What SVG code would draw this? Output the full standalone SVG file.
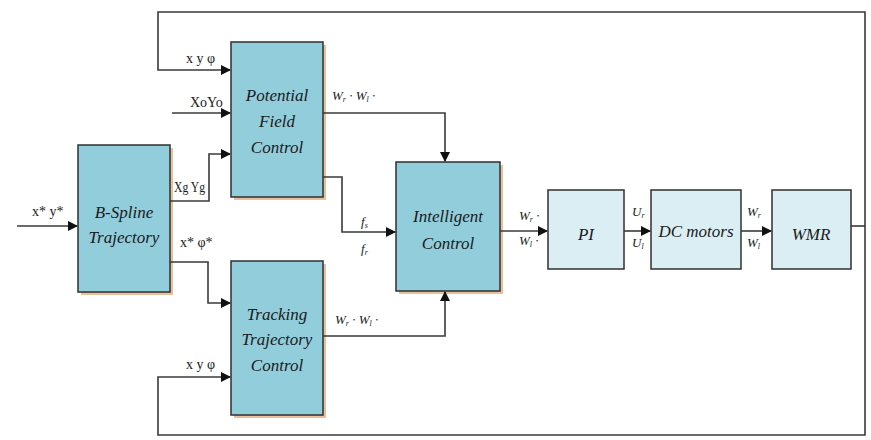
<svg xmlns="http://www.w3.org/2000/svg" width="871" height="440" viewBox="0 0 871 440">
<style>
.shadow{fill:#e9bf9c;}
.box{fill:#92cddc;stroke:#2f2f2f;stroke-width:1.5;}
.lbox{fill:#dbeef4;stroke:#2f2f2f;stroke-width:1.5;}
.bt{font-family:"Liberation Serif",serif;font-style:italic;font-size:17px;fill:#1a1a1a;text-anchor:middle;}
.lt{font-family:"Liberation Serif",serif;font-size:14px;fill:#1a1a1a;}
.it{font-family:"Liberation Serif",serif;font-style:italic;font-size:13px;fill:#1a1a1a;}
.sub{font-size:8px;}
.c{fill:none;stroke:#3a3a3a;stroke-width:1.6;}
</style>
<defs>
<marker id="ah" markerWidth="10" markerHeight="10" refX="9" refY="5" orient="auto" markerUnits="userSpaceOnUse">
<path d="M0,0 L10,5 L0,10 z" fill="#111"/>
</marker>
</defs>
<rect width="871" height="440" fill="#fff"/>
<g id="bspline">
<rect class="shadow" x="81" y="148" width="92" height="147"/>
<rect class="box" x="78" y="145" width="92" height="147"/>
<text class="bt" x="124" y="218" font-size="16">B-Spline</text>
<text class="bt" x="124" y="243" font-size="16">Trajectory</text>
</g>
<g id="potential">
<rect class="shadow" x="234" y="45" width="92" height="155"/>
<rect class="box" x="231" y="42" width="92" height="155"/>
<text class="bt" x="277" y="101">Potential</text>
<text class="bt" x="277" y="127">Field</text>
<text class="bt" x="277" y="153">Control</text>
</g>
<g id="tracking">
<rect class="shadow" x="234" y="264" width="92" height="154"/>
<rect class="box" x="231" y="261" width="92" height="154"/>
<text class="bt" x="277" y="320">Tracking</text>
<text class="bt" x="277" y="345">Trajectory</text>
<text class="bt" x="277" y="371">Control</text>
</g>
<g id="intelligent">
<rect class="shadow" x="399" y="165" width="104" height="129"/>
<rect class="box" x="396" y="162" width="104" height="129"/>
<text class="bt" x="448" y="222">Intelligent</text>
<text class="bt" x="448" y="249">Control</text>
</g>
<g id="pi">
<rect class="lbox" x="548" y="190" width="76" height="79"/>
<text class="bt" x="586" y="240">PI</text>
</g>
<g id="dcmotors">
<rect class="lbox" x="651" y="190" width="90" height="79"/>
<text class="bt" x="696" y="237" font-size="15">DC motors</text>
</g>
<g id="wmr">
<rect class="lbox" x="772" y="190" width="79" height="79"/>
<text class="bt" x="811" y="240">WMR</text>
</g>
<g id="connectors">
<polyline class="c" points="865,226 865,12 158,12 158,70 230,70" marker-end="url(#ah)"/>
<polyline class="c" points="865,226 865,435 158,435 158,377 230,377" marker-end="url(#ah)"/>
<line class="c" x1="851" y1="226" x2="865" y2="226"/>
<line class="c" x1="172" y1="113" x2="230" y2="113" marker-end="url(#ah)"/>
<polyline class="c" points="170,201 209,201 209,154 230,154" marker-end="url(#ah)"/>
<polyline class="c" points="170,262 208,262 208,303 230,303" marker-end="url(#ah)"/>
<line class="c" x1="17" y1="226" x2="77" y2="226" marker-end="url(#ah)"/>
<polyline class="c" points="323,113 445,113 445,161" marker-end="url(#ah)"/>
<polyline class="c" points="323,177 342,177 342,232 395,232" marker-end="url(#ah)"/>
<polyline class="c" points="323,336 445,336 445,292" marker-end="url(#ah)"/>
<line class="c" x1="500" y1="231" x2="547" y2="231" marker-end="url(#ah)"/>
<line class="c" x1="624" y1="231" x2="650" y2="231" marker-end="url(#ah)"/>
<line class="c" x1="741" y1="231" x2="771" y2="231" marker-end="url(#ah)"/>
</g>
<g id="labels">
<text class="lt" x="186" y="63">x y φ</text>
<text class="lt" x="186" y="369">x y φ</text>
<text class="lt" x="190" y="107" font-size="11">XoYo</text>
<text class="lt" x="174" y="192" font-size="12" textLength="31" lengthAdjust="spacingAndGlyphs">Xg Yg</text>
<text class="lt" x="180" y="247">x* φ*</text>
<text class="lt" x="32" y="216">x* y*</text>
<text class="it" x="332" y="100">W<tspan class="sub" dy="2">r</tspan><tspan dy="-2"> ∙ W</tspan><tspan class="sub" dy="2">l</tspan><tspan dy="-2"> ∙</tspan></text>
<text class="it" x="335" y="324">W<tspan class="sub" dy="2">r</tspan><tspan dy="-2"> ∙ W</tspan><tspan class="sub" dy="2">l</tspan><tspan dy="-2"> ∙</tspan></text>
<text class="it" x="361" y="226">f<tspan class="sub" dy="2">s</tspan></text>
<text class="it" x="361" y="253">f<tspan class="sub" dy="2">r</tspan></text>
<text class="it" x="519" y="220">W<tspan class="sub" dy="2">r</tspan><tspan dy="-2"> ∙</tspan></text>
<text class="it" x="519" y="245">W<tspan class="sub" dy="2">l</tspan><tspan dy="-2"> ∙</tspan></text>
<text class="it" x="632" y="216">U<tspan class="sub" dy="2">r</tspan></text>
<text class="it" x="632" y="247">U<tspan class="sub" dy="2">l</tspan></text>
<text class="it" x="747" y="216">W<tspan class="sub" dy="2">r</tspan></text>
<text class="it" x="747" y="247">W<tspan class="sub" dy="2">l</tspan></text>
</g>
</svg>
